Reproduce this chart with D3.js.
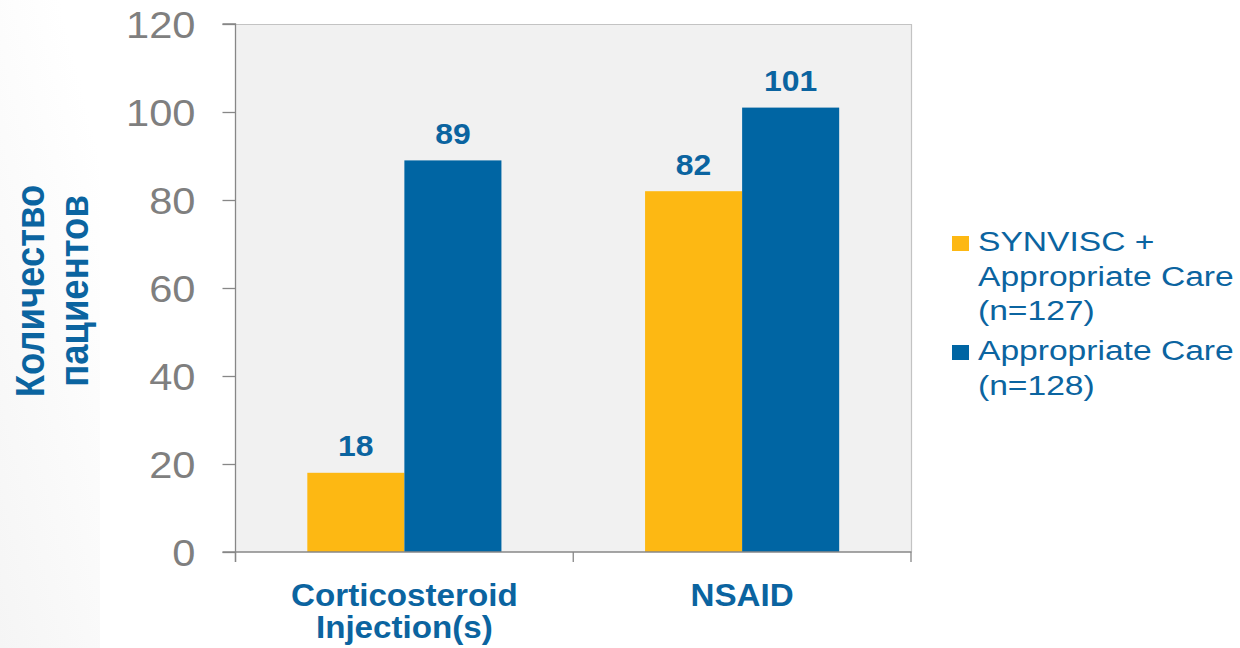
<!DOCTYPE html>
<html>
<head>
<meta charset="utf-8">
<script src="https://cdn.jsdelivr.net/npm/d3@7"></script>
<style>
  html, body { margin: 0; padding: 0; background: #ffffff; }
  svg { display: block; font-family: "Liberation Sans", Arial, sans-serif; }
</style>
</head>
<body>
<svg id="chart" width="1240" height="648"></svg>
<script>
// ---- data ----
const categories = [["Corticosteroid", "Injection(s)"], ["NSAID"]];
const categoryKeys = ["Corticosteroid Injection(s)", "NSAID"];
const seriesNames = [["SYNVISC +", "Appropriate Care", "(n=127)"], ["Appropriate Care", "(n=128)"]];
const seriesKeys = ["synvisc", "care"];
const synviscValues = [18, 82];
const careValues = [89, 101];
const yTicks = [0, 20, 40, 60, 80, 100, 120];
const yTitle = ["Количество", "пациентов"];

const colors = { synvisc: "#FDB813", care: "#0065A3" };
const textBlue = "#0B64A0";

const svg = d3.select("#chart");
const W = 1240, H = 648;
const pLeft = 235.5, pRight = 911, pTop = 24, pBottom = 552;

// subtle background gradient on left
const defs = svg.append("defs");
const grad = defs.append("linearGradient").attr("id", "bg").attr("x1", 0).attr("y1", 1).attr("x2", 0.6).attr("y2", 0);
grad.append("stop").attr("offset", "0%").attr("stop-color", "#f5f5f5");
grad.append("stop").attr("offset", "100%").attr("stop-color", "#ffffff");
svg.append("rect").attr("x", 0).attr("y", 0).attr("width", 100).attr("height", H).attr("fill", "url(#bg)");

const x0 = d3.scaleBand().domain(categoryKeys).range([pLeft, pRight]).paddingInner(0).paddingOuter(0);
const x1 = d3.scaleBand().domain(seriesKeys).range([0, x0.bandwidth()]).paddingInner(0).paddingOuter(0.74);
const y = d3.scaleLinear().domain([0, 120]).range([pBottom, pTop]);

// plot background and frame
svg.append("rect").attr("x", pLeft).attr("y", pTop).attr("width", pRight - pLeft).attr("height", pBottom - pTop)
  .attr("fill", "#f1f1f1");
svg.append("path").attr("d", `M${pLeft},${pTop + 0.5}H${pRight + 0.5}V${pBottom}`)
  .attr("fill", "none").attr("stroke", "#c3c3c3").attr("stroke-width", 1.2);

// bars
const rows = categoryKeys.map((c, i) => ({ cat: c, vals: [
  { key: "synvisc", v: synviscValues[i] }, { key: "care", v: careValues[i] }] }));

const g = svg.append("g").selectAll("g").data(rows).join("g")
  .attr("transform", d => `translate(${x0(d.cat)},0)`);
g.selectAll("rect").data(d => d.vals).join("rect")
  .attr("x", d => x1(d.key)).attr("width", x1.bandwidth())
  .attr("y", d => y(d.v)).attr("height", d => y(0) - y(d.v))
  .attr("fill", d => colors[d.key]);
g.selectAll("text").data(d => d.vals).join("text")
  .attr("transform", d => `translate(${x1(d.key) + x1.bandwidth() / 2},${y(d.v) - 16.5}) scale(1.1,1)`)
  .attr("text-anchor", "middle").attr("font-weight", "bold").attr("font-size", 29)
  .attr("fill", textBlue).text(d => d.v);

// y axis
const yAxis = svg.append("g").attr("transform", `translate(${pLeft},0)`)
  .call(d3.axisLeft(y).tickValues(yTicks).tickSize(13).tickPadding(0));
yAxis.select(".domain").attr("stroke", "#878787").attr("stroke-width", 1.3)
  .attr("d", `M-13,${pTop}H0V${pBottom + 10}`);
yAxis.selectAll(".tick line").attr("stroke", "#878787").attr("stroke-width", 1.3);
yAxis.selectAll(".tick text")
  .attr("x", null).attr("dy", null)
  .attr("transform", "translate(-40,13) scale(1.14,1)")
  .attr("text-anchor", "end").attr("font-size", 36.5)
  .attr("font-family", "'Liberation Sans', Arial, sans-serif")
  .attr("fill", "#7f7f7f");

// x axis
const xAxis = svg.append("g").attr("transform", `translate(0,${pBottom})`)
  .call(d3.axisBottom(x0).tickSize(0).tickFormat(""));
xAxis.select(".domain").attr("stroke", "#878787").attr("stroke-width", 1.3)
  .attr("d", `M${pLeft - 13},0H${pRight + 0.5}`);
const bounds = categoryKeys.map(c => x0(c)).concat([x0(categoryKeys[categoryKeys.length - 1]) + x0.bandwidth()]);
xAxis.selectAll("line.bound").data(bounds).join("line").attr("class", "bound")
  .attr("x1", d => d).attr("x2", d => d).attr("y1", 0).attr("y2", 10)
  .attr("stroke", "#878787").attr("stroke-width", 1.3);

// category labels
categoryKeys.forEach((c, i) => {
  const cx = x0(c) + x0.bandwidth() / 2;
  categories[i].forEach((line, j) => {
    svg.append("text")
      .attr("transform", `translate(${cx},${606 + j * 31.5}) scale(1.07,1)`)
      .attr("text-anchor", "middle").attr("font-weight", "bold").attr("font-size", 31)
      .attr("fill", textBlue).text(line);
  });
});

// y title
yTitle.forEach((line, j) => {
  svg.append("text")
    .attr("transform", `translate(${43.5 + j * 44.5},291) scale(1.1,1) rotate(-90)`)
    .attr("text-anchor", "middle").attr("font-weight", "bold").attr("font-size", 36.5)
    .attr("fill", textBlue).text(line);
});

// legend
const legendTops = [251, 360];
seriesKeys.forEach((k, i) => {
  const base = legendTops[i];
  svg.append("rect").attr("x", 952).attr("y", base - 15).attr("width", 17).attr("height", 15)
    .attr("fill", colors[k]);
  seriesNames[i].forEach((line, j) => {
    svg.append("text")
      .attr("transform", `translate(978,${base + j * 34.5}) scale(1.2,1)`)
      .attr("font-size", 28).attr("fill", textBlue).text(line);
  });
});
</script>
</body>
</html>
